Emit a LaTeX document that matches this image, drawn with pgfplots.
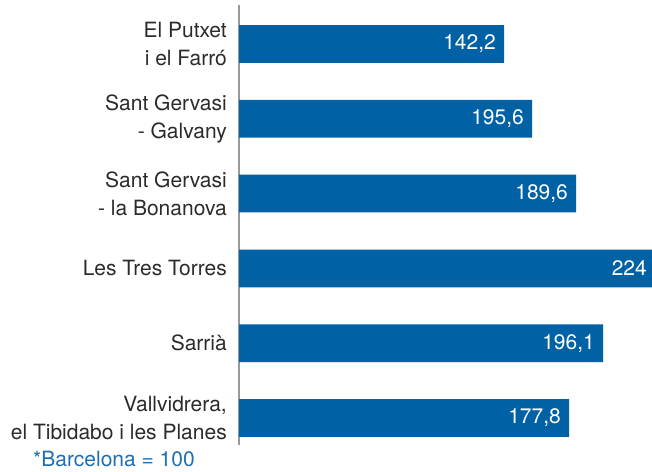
\documentclass[border=0pt]{standalone}
\usepackage{fontspec}
\setmainfont{TeX Gyre Heros}
\usepackage{pgfplots}
\usepackage{pgfplotstable}
\pgfplotsset{compat=1.18}
\definecolor{barblue}{HTML}{0062A5}
\definecolor{noteblue}{HTML}{1F6FB5}
\definecolor{labgray}{HTML}{2B2B2B}

% pos = row from the top, len = drawn bar length, lab = printed value
\pgfplotstableread{
pos len lab
0 142.7 142,2
1 157.8 195,6
2 181.5 189,6
3 224.0 224
4 196.0 196,1
5 177.7 177,8
}\barsdata

\newcommand{\lblfont}{\fontsize{21}{28.5}\selectfont}

\begin{document}
\begin{tikzpicture}[x=1pt,y=1pt]
\useasboundingbox (0,0) rectangle (652,471);
\begin{axis}[
  at={(239pt,26pt)}, anchor=south west,
  scale only axis, width=416pt, height=440pt,
  xbar, bar width=37.7pt,
  xmin=0, xmax=224,
  ymin=-0.52, ymax=5.36, y dir=reverse,
  hide x axis,
  axis y line*=left,
  y axis line style={draw=gray!80, line width=1.3pt, -},
  ytick={0,1,2,3,4,5},
  yticklabels={{El Putxet\\i el Farró},{Sant Gervasi\\- Galvany},{Sant Gervasi\\- la Bonanova},{Les Tres Torres},{Sarrià},{Vallvidrera,\\el Tibidabo i les Planes}},
  major tick length=0pt,
  yticklabel style={font=\lblfont, text=labgray, align=right, inner sep=0pt, xshift=-12pt},
  nodes near coords,
  point meta=explicit symbolic,
  every node near coord/.append style={anchor=east, text=white, font=\lblfont, xshift=-8pt, inner sep=0pt},
]
\addplot[fill=barblue, draw=none] table[x=len, y=pos, meta=lab] {\barsdata};
\end{axis}
\node[anchor=base west, inner sep=0pt, text=noteblue, font=\lblfont] at (33,5) {*Barcelona = 100};
\end{tikzpicture}
\end{document}
